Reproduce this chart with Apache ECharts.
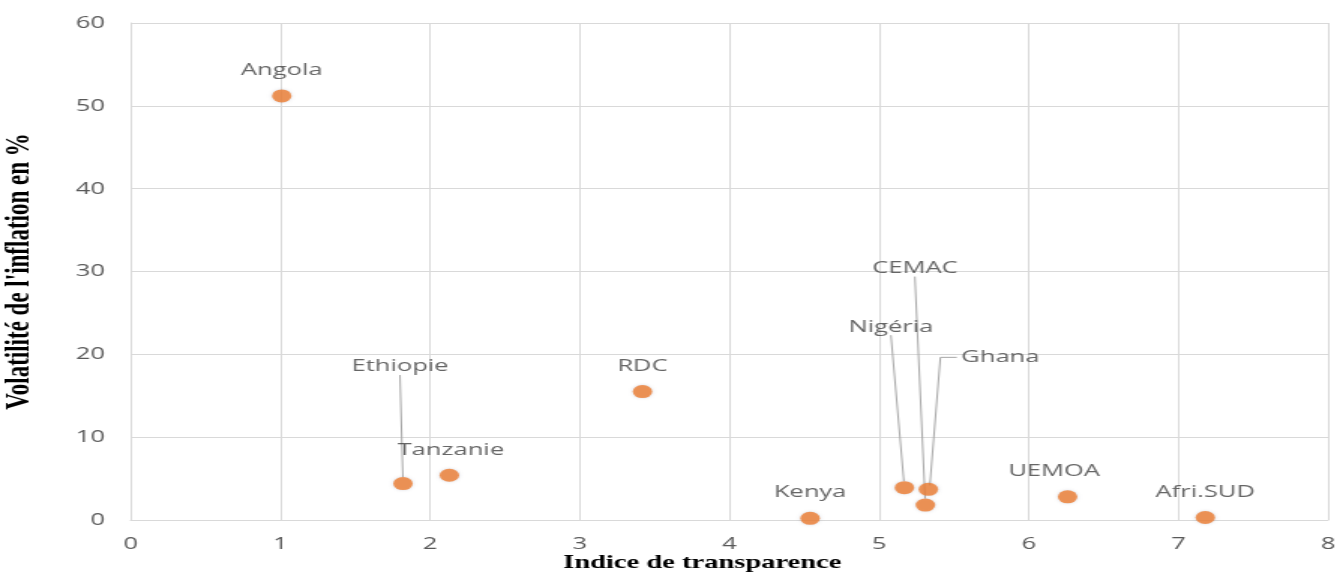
<!DOCTYPE html>
<html>
<head>
<meta charset="utf-8">
<script src="https://cdn.jsdelivr.net/npm/echarts@6/dist/echarts.min.js"></script>
<style>
  html, body { margin: 0; padding: 0; background: #ffffff; overflow: hidden; }
  #wrap { width: 1337px; height: 572px; overflow: hidden; }
  /* the chart is laid out narrower, then widened to the page width */
  #chart { width: 891px; height: 572px; transform: scaleX(1.5006); transform-origin: 0 0; }
</style>
</head>
<body>
<div id="wrap"><div id="chart"></div></div>
<script>
// Countries / zones
const countries = ['Angola', 'Ethiopie', 'Tanzanie', 'RDC', 'Kenya', 'Nigéria', 'CEMAC', 'Ghana', 'UEMOA', 'Afri.SUD'];
// Indice de transparence
const transparency = [1.01, 1.82, 2.13, 3.42, 4.54, 5.17, 5.31, 5.33, 6.26, 7.18];
// Volatilité de l'inflation (%)
const inflationVolatility = [51.2, 4.4, 5.4, 15.5, 0.2, 3.9, 1.8, 3.7, 2.8, 0.3];
// Axis ticks
const xTicks = [0, 1, 2, 3, 4, 5, 6, 7, 8];
const yTicks = [0, 10, 20, 30, 40, 50, 60];

// Label placement relative to each marker, and the kind of leader line
const labelShift = {
  'Angola':   { dx: 0,  dy: -26,  line: null },
  'Ethiopie': { dx: -2, dy: -117, line: 'auto' },
  'Tanzanie': { dx: 1,  dy: -25,  line: null },
  'RDC':      { dx: 0,  dy: -25,  line: null },
  'Kenya':    { dx: 0,  dy: -26,  line: null },
  'Nigéria':  { dx: -9, dy: -161, line: 'auto' },
  'CEMAC':    { dx: -7, dy: -237, line: 'auto' },
  'Ghana':    { dx: 48, dy: -132, line: 'elbow' },
  'UEMOA':    { dx: -9, dy: -26,  line: null },
  'Afri.SUD': { dx: 0,  dy: -25,  line: null }
};

const LABEL_FONT_SIZE = 17;
const LABEL_FONT_FAMILY = 'Open Sans';
const LEADER_COLOR = '#a6a6a6';

const points = countries.map((name, i) => ({
  name: name,
  value: [transparency[i], inflationVolatility[i]],
  labelLine: { show: labelShift[name].line === 'auto' }
}));

const chart = echarts.init(document.getElementById('chart'), null, { renderer: 'canvas' });

const tickFont = { color: '#595959', fontFamily: 'Open Sans', fontSize: 17 };
const titleFont = { color: '#000000', fontFamily: 'Liberation Serif', fontWeight: 'bold' };

chart.setOption({
  animation: false,
  backgroundColor: '#ffffff',
  grid: { left: 87, right: 6, top: 23, bottom: 52, containLabel: false, outerBoundsMode: 'none' },
  xAxis: {
    type: 'value',
    min: xTicks[0],
    max: xTicks[xTicks.length - 1],
    interval: 1,
    name: 'Indice de transparence',
    nameLocation: 'middle',
    nameGap: 34,
    nameMoveOverlap: false,
    nameTextStyle: Object.assign({ fontSize: 19, padding: [0, 36, 0, 0] }, titleFont),
    axisLine: { show: true, lineStyle: { color: '#d9d9d9', width: 1 } },
    axisTick: { show: false },
    axisLabel: Object.assign({ margin: 16 }, tickFont),
    splitLine: { show: true, lineStyle: { color: '#d9d9d9', width: 1 } }
  },
  yAxis: {
    type: 'value',
    min: yTicks[0],
    max: yTicks[yTicks.length - 1],
    interval: 10,
    name: "Volatilité de l'inflation en %",
    nameLocation: 'middle',
    nameGap: 62,
    nameRotate: 90,
    nameTextStyle: Object.assign({ fontSize: 23 }, titleFont),
    axisLine: { show: true, lineStyle: { color: '#d9d9d9', width: 1 } },
    axisTick: { show: false },
    axisLabel: Object.assign({ margin: 17 }, tickFont),
    splitLine: { show: true, lineStyle: { color: '#d9d9d9', width: 1 } }
  },
  series: [{
    type: 'scatter',
    data: points,
    symbol: 'circle',
    symbolSize: 13,
    itemStyle: { color: '#ED7D31', shadowBlur: 3, shadowColor: 'rgba(120,120,140,0.35)' },
    label: {
      show: true,
      position: 'inside',
      formatter: '{b}',
      color: '#404040',
      fontFamily: LABEL_FONT_FAMILY,
      fontSize: LABEL_FONT_SIZE
    },
    labelLine: {
      show: false,
      lineStyle: { color: LEADER_COLOR, width: 1 }
    },
    labelLayout: function (params) {
      const s = labelShift[countries[params.dataIndex]];
      return { dx: s.dx, dy: s.dy };
    },
    emphasis: { disabled: true }
  }]
});

// Elbow-shaped leader lines: up from the marker, then across to the label's left edge
const measureCtx = document.createElement('canvas').getContext('2d');
measureCtx.font = LABEL_FONT_SIZE + 'px "' + LABEL_FONT_FAMILY + '"';
const elbows = [];
countries.forEach((name, i) => {
  const s = labelShift[name];
  if (s.line !== 'elbow') return;
  const p = chart.convertToPixel({ seriesIndex: 0 }, [transparency[i], inflationVolatility[i]]);
  const halfWidth = measureCtx.measureText(name).width / 2;
  const y = p[1] + s.dy;
  const left = p[0] + s.dx - halfWidth - 3;
  elbows.push({
    type: 'polyline',
    silent: true,
    z: 1,
    shape: { points: [[p[0] + 1, p[1] - 4], [p[0] + 8, y], [left, y]] },
    style: { stroke: LEADER_COLOR, lineWidth: 1, fill: null }
  });
});
chart.setOption({ graphic: elbows });
</script>
</body>
</html>
